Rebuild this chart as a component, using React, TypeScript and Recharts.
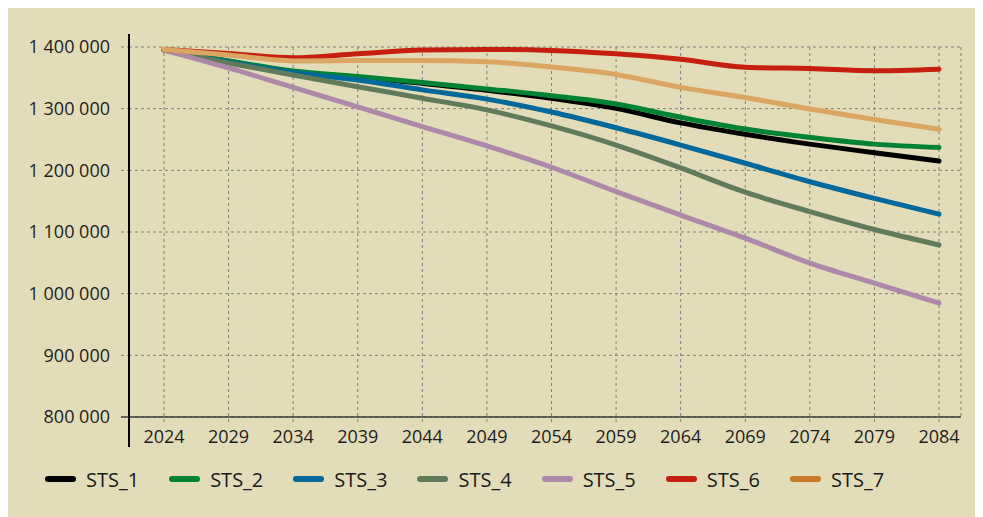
import React from 'react';
import { LineChart, Line, XAxis, YAxis, CartesianGrid, Legend } from 'recharts';

const years = ['2024', '2029', '2034', '2039', '2044', '2049', '2054', '2059', '2064', '2069', '2074', '2079', '2084'];

const sts1 = [1395000, 1377000, 1360000, 1351000, 1341000, 1330000, 1317000, 1300500, 1277000, 1258500, 1242500, 1228500, 1215000];
const sts2 = [1395000, 1377500, 1361000, 1352000, 1342500, 1332000, 1321000, 1307500, 1286000, 1267000, 1253500, 1242500, 1237000];
const sts3 = [1395000, 1375500, 1358500, 1346500, 1330500, 1315500, 1294500, 1269000, 1241000, 1211500, 1181500, 1154500, 1129000];
const sts4 = [1395000, 1374000, 1354500, 1335500, 1317000, 1298000, 1272000, 1241000, 1204000, 1164500, 1133000, 1104000, 1079000];
const sts5 = [1395000, 1366000, 1334500, 1303000, 1271000, 1239500, 1205000, 1165500, 1127500, 1090000, 1049500, 1017000, 984500];
const sts6 = [1396000, 1389500, 1382500, 1389000, 1395000, 1396000, 1394500, 1389000, 1380000, 1367000, 1365000, 1361500, 1364000];
const sts7 = [1396000, 1387000, 1377500, 1378000, 1378000, 1376000, 1367500, 1355500, 1334500, 1318000, 1299500, 1282500, 1266500];

const yTicks = [800000, 900000, 1000000, 1100000, 1200000, 1300000, 1400000];

const series = [
  { key: 'STS_1', values: sts1, color: '#000000', legendColor: '#000000' },
  { key: 'STS_2', values: sts2, color: '#008234', legendColor: '#008234' },
  { key: 'STS_3', values: sts3, color: '#00689a', legendColor: '#00689a' },
  { key: 'STS_4', values: sts4, color: '#5f7b59', legendColor: '#5f7b59' },
  { key: 'STS_5', values: sts5, color: '#ae88a9', legendColor: '#ae88a9' },
  { key: 'STS_6', values: sts6, color: '#c51f0f', legendColor: '#c51f0f' },
  { key: 'STS_7', values: sts7, color: '#dba562', legendColor: '#c97a26' },
];

const data = years.map((year, i) => {
  const row: Record<string, string | number> = { year };
  series.forEach((s) => {
    row[s.key] = s.values[i];
  });
  return row;
});

const FONT = '"Open Sans", "Noto Sans", sans-serif';
const BG = '#e3dcb9';
const Y_TICK_SIZE = 8;
const Y_TICK_MARGIN = 11;

const fmt = (v: number) => String(v).replace(/\B(?=(\d{3})+(?!\d))/g, '\u00a0');

function YTick(props: any) {
  const { x, y, payload } = props;
  const lineX1 = x + Y_TICK_MARGIN;
  const solid = payload.value === 800000;
  return (
    <g>
      <line
        x1={lineX1}
        x2={lineX1 + Y_TICK_SIZE}
        y1={y}
        y2={y}
        stroke={solid ? '#3a3a3a' : '#7f7f7f'}
        strokeWidth={solid ? 1.5 : 1}
        strokeDasharray={solid ? undefined : '3 3'}
      />
      <text x={x} y={y} dy="0.355em" textAnchor="end" fill="#1e1e1e" fontSize={18} fontFamily={FONT}>
        {fmt(payload.value)}
      </text>
    </g>
  );
}

function LegendContent() {
  return (
    <div style={{ display: 'flex', alignItems: 'center', height: 40, paddingLeft: 37, fontFamily: FONT }}>
      {series.map((s) => (
        <div key={s.key} style={{ display: 'flex', alignItems: 'center', marginRight: 30 }}>
          <span style={{ display: 'inline-block', width: 31, height: 6, borderRadius: 3, background: s.legendColor, marginRight: 10 }} />
          <span style={{ fontSize: 20, color: '#1a1a1a' }}>{s.key}</span>
        </div>
      ))}
    </div>
  );
}

export default function App() {
  return (
    <div style={{ position: 'relative', width: 975, height: 509, background: BG }}>
      <LineChart width={975} height={509} data={data} margin={{ top: 39, right: 22, left: 0, bottom: 18 }}>
        <CartesianGrid stroke="#7f7f7f" strokeDasharray="3 3" />
        <XAxis
          dataKey="year"
          height={42}
          padding={{ left: 35, right: 22 }}
          tickSize={5}
          tickMargin={8}
          axisLine={{ stroke: '#3a3a3a', strokeWidth: 1.5 }}
          tickLine={{ stroke: '#7f7f7f', strokeDasharray: '3 3' }}
          tick={{ fill: '#1e1e1e', fontSize: 18, fontFamily: FONT }}
          interval={0}
        />
        <YAxis
          width={121}
          domain={[800000, 1400000]}
          ticks={yTicks}
          axisLine={false}
          tickLine={false}
          tickSize={Y_TICK_SIZE}
          tickMargin={Y_TICK_MARGIN}
          tick={<YTick />}
        />
        <Legend verticalAlign="bottom" content={<LegendContent />} wrapperStyle={{ left: 0, width: 975 }} />
        {series.map((s) => (
          <Line
            key={s.key}
            type="monotone"
            dataKey={s.key}
            stroke={s.color}
            strokeWidth={5}
            strokeLinecap="round"
            dot={false}
            activeDot={false}
            isAnimationActive={false}
          />
        ))}
      </LineChart>
      <div style={{ position: 'absolute', left: 120.25, top: 26, width: 1.5, height: 413, background: '#000' }} />
    </div>
  );
}
